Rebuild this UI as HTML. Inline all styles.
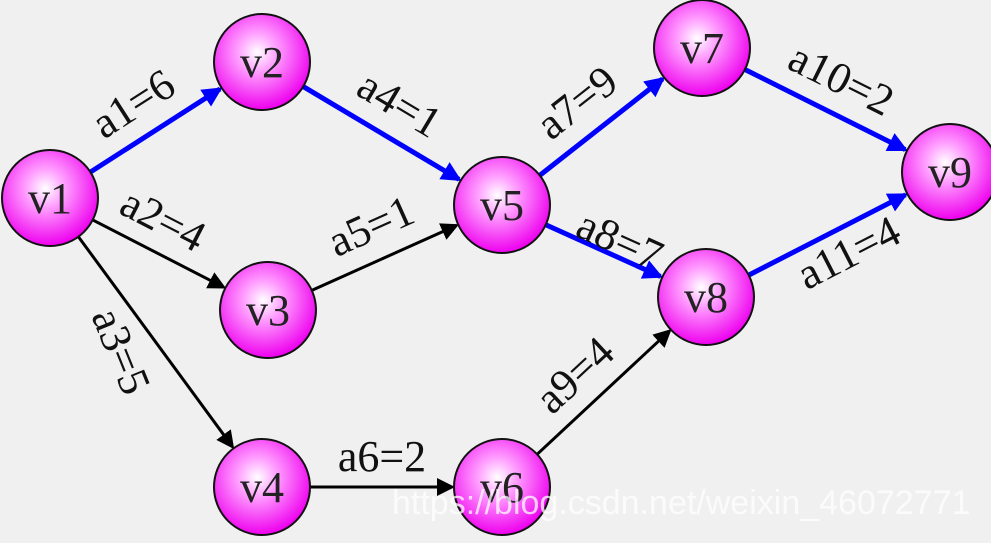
<!DOCTYPE html>
<html><head><meta charset="utf-8"><style>
html,body{margin:0;padding:0;background:#f0f0f0;}
svg{display:block}
</style></head><body>
<svg id="g" width="991" height="543" viewBox="0 0 991 543" xmlns="http://www.w3.org/2000/svg">
<defs>
<radialGradient id="ng" cx="45%" cy="40%" r="60%">
<stop offset="0" stop-color="#ffffff"/><stop offset="0.35" stop-color="#ff9cff"/><stop offset="1" stop-color="#ee00ee"/>
</radialGradient>
<marker id="ab" markerWidth="6" markerHeight="6" refX="5" refY="3" orient="auto" markerUnits="strokeWidth"><path d="M0,0 L6,3 L0,6 z" fill="#000"/></marker>
<marker id="au" markerWidth="4" markerHeight="4" refX="3.4" refY="2" orient="auto" markerUnits="strokeWidth"><path d="M0,0 L4,2 L0,4 z" fill="#0000ff"/></marker>
</defs>
<g id="edges"></g><g id="nodes"></g><g id="labels"></g>
<text x="392" y="514" font-family="Liberation Sans, sans-serif" font-size="34" fill="#ffffff" fill-opacity="0.75">https://blog.csdn.net/weixin_46072771</text>
</svg>
<script>
const nodeNames=["v1","v2","v3","v4","v5","v6","v7","v8","v9"];
const nodeX=[50,262,268,262,502,502,702,706,950];
const nodeY=[198,62,310,487,205,487,48,297,172];
const edgeNames=["a1","a2","a3","a4","a5","a6","a7","a8","a9","a10","a11"];
const edgeFrom=[0,0,0,1,2,3,4,4,5,6,7];
const edgeTo=[1,2,3,4,4,5,6,7,7,8,8];
const edgeWeights=[6,4,5,1,1,2,9,7,4,2,4];
const edgeCritical=[1,0,0,1,0,0,1,1,0,1,1];
const R=48, NS="http://www.w3.org/2000/svg";
const eg=document.getElementById('edges'),ng=document.getElementById('nodes'),lg=document.getElementById('labels');
const labelOff=[[-5,-30],[-12,-28],[-5,40],[0,-30],[0,-30],[0,-26],[-5,-30],[10,-12],[-10,-28],[0,-30],[10,30]];
for(let i=0;i<edgeNames.length;i++){
 const a=edgeFrom[i],b=edgeTo[i];
 const dx=nodeX[b]-nodeX[a],dy=nodeY[b]-nodeY[a],L=Math.hypot(dx,dy),ux=dx/L,uy=dy/L;
 const l=document.createElementNS(NS,'line');
 l.setAttribute('x1',nodeX[a]+ux*R);l.setAttribute('y1',nodeY[a]+uy*R);
 l.setAttribute('x2',nodeX[b]-ux*(R+2));l.setAttribute('y2',nodeY[b]-uy*(R+2));
 const c=edgeCritical[i];
 l.setAttribute('stroke',c?'#0000ff':'#000');l.setAttribute('stroke-width',c?5:3);
 l.setAttribute('marker-end',c?'url(#au)':'url(#ab)');
 
 
 eg.appendChild(l);
 let ang=Math.atan2(dy,dx)*180/Math.PI;
 if(ang>90)ang-=180; if(ang<-90)ang+=180;
 if(i===2)ang=68;
 const mx=(nodeX[a]+nodeX[b])/2,my=(nodeY[a]+nodeY[b])/2;
 const rad=ang*Math.PI/180, off=labelOff[i];
 const px=mx-Math.sin(rad)*off[1]+Math.cos(rad)*off[0], py=my+Math.cos(rad)*off[1]+Math.sin(rad)*off[0];
 const t=document.createElementNS(NS,'text');
 t.setAttribute('x',px);t.setAttribute('y',py);
 t.setAttribute('transform','rotate('+ang+' '+px+' '+py+')');
 t.setAttribute('text-anchor','middle');t.setAttribute('dominant-baseline','middle');
 t.setAttribute('font-family','Liberation Serif, serif');t.setAttribute('font-size','44');t.setAttribute('fill','#111');
 t.textContent=edgeNames[i]+'='+edgeWeights[i];
 
 
 lg.appendChild(t);
}
for(let i=0;i<nodeNames.length;i++){
 const g=document.createElementNS(NS,'g');
 
 
 const c=document.createElementNS(NS,'circle');
 c.setAttribute('cx',nodeX[i]);c.setAttribute('cy',nodeY[i]);c.setAttribute('r',R);
 c.setAttribute('fill','url(#ng)');c.setAttribute('stroke','#111');c.setAttribute('stroke-width','2');
 g.appendChild(c);
 const t=document.createElementNS(NS,'text');
 t.setAttribute('x',nodeX[i]);t.setAttribute('y',nodeY[i]+15);t.setAttribute('text-anchor','middle');
 t.setAttribute('font-family','Liberation Serif, serif');t.setAttribute('font-size','44');t.setAttribute('fill','#222');
 t.textContent=nodeNames[i];
 g.appendChild(t);
 ng.appendChild(g);
}
</script>
</body></html>
